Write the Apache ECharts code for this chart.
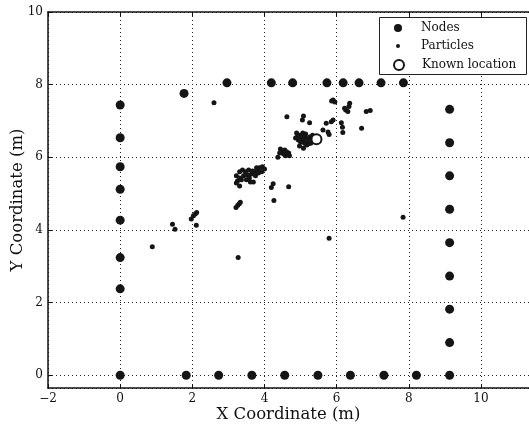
<!DOCTYPE html>
<html>
<head>
<meta charset="utf-8">
<script src="https://cdn.jsdelivr.net/npm/echarts@6/dist/echarts.min.js"></script>
<style>
    html,body{margin:0;padding:0;background:#fff;}
    #main{width:529px;height:428px;}
</style>
</head>
<body>
<div id="main"></div>
<script>
// 节点 (Nodes)
var nodes = [
    [0,0],[0,2.38],[0,3.24],[0,4.27],[0,5.12],[0,5.74],[0,6.54],[0,7.44],
    [1.83,0],[2.73,0],[3.65,0],[4.56,0],[5.48,0],[6.38,0],[7.31,0],[8.21,0],[9.13,0],
    [9.13,0.90],[9.13,1.82],[9.13,2.73],[9.13,3.65],[9.13,4.57],[9.13,5.49],[9.13,6.40],[9.13,7.32],
    [1.77,7.76],[2.96,8.05],[4.19,8.05],[4.78,8.05],[5.73,8.05],[6.18,8.05],[6.62,8.05],[7.23,8.05],[7.85,8.05]
];

// 粒子 (Particles)
var particles = [
    [0.89,3.54],[1.45,4.16],[1.52,4.02],
    [1.97,4.30],[2.03,4.39],[2.08,4.44],[2.12,4.48],[2.11,4.13],
    [3.27,3.24],[3.21,4.62],[3.26,4.68],[3.30,4.72],[3.33,4.76],
    [3.22,5.49],[3.31,5.60],[3.39,5.65],[3.47,5.60],[3.31,5.43],[3.42,5.49],[3.53,5.51],
    [3.58,5.43],[3.64,5.54],[3.72,5.60],[3.81,5.65],[3.86,5.71],[3.94,5.74],[4.00,5.68],
    [3.92,5.60],[3.75,5.49],[3.25,5.35],[3.36,5.38],[3.50,5.38],[3.67,5.62],[3.83,5.57],
    [3.56,5.65],[3.69,5.32],[3.31,5.21],[3.22,5.29],[3.61,5.32],[3.78,5.71],
    [4.26,4.81],[4.67,5.19],[4.19,5.17],[4.24,5.27],[5.79,3.77],[7.84,4.35],
    [4.37,6.00],[4.44,6.23],[4.50,6.17],[4.56,6.20],[4.61,6.15],[4.67,6.12],[4.53,6.09],
    [4.69,6.04],[4.58,6.04],[4.42,6.12],
    [4.86,6.53],[4.92,6.59],[4.97,6.61],[5.03,6.56],[5.08,6.59],[5.14,6.53],[5.19,6.48],
    [5.25,6.56],[5.31,6.50],[4.94,6.48],[5.00,6.42],[5.06,6.45],[5.11,6.39],[5.17,6.34],
    [5.22,6.37],[4.89,6.67],[5.06,6.67],[5.14,6.64],[4.97,6.31],[5.08,6.25],[5.28,6.39],[5.33,6.61],
    [2.60,7.50],[4.62,7.12],[5.08,7.14],[5.05,7.03],[5.25,6.95],
    [5.71,6.94],[5.85,6.98],[5.90,7.03],[5.62,6.75],[5.79,6.63],[5.76,6.70],
    [5.90,7.58],[5.95,7.52],[5.86,7.55],
    [6.22,7.35],[6.31,7.26],[6.36,7.49],[6.25,7.30],[6.34,7.40],
    [6.82,7.26],[6.93,7.29],[6.13,6.95],[6.16,6.83],[6.17,6.68],[6.69,6.80]
];

// 已知位置 (Known location)
var knownLocation = [[5.44,6.50]];

var seriesNames = ['Nodes','Particles','Known location'];

var serif = '"DejaVu Serif", serif';

function minusSign(v){
    return String(v).replace('-','\u2212');
}

// 图例: 每项一个 legend, 图标大小不同
function legendItem(name,top,size){
    return {
        data:[name],
        left:398 - size/2,
        top:top - 7,
        padding:0,
        z:20,
        itemWidth:size,
        itemHeight:size,
        textStyle:{
            fontFamily:serif,fontSize:12,color:'#111',
            padding:[0,0,0,18 - size/2]
        }
    };
}

var chart = echarts.init(document.getElementById('main'));

var gridLine = {
    show:true,
    lineStyle:{color:'#222',width:1,type:[1,3]}
};

var option = {
    animation:false,
    backgroundColor:'#fff',
    grid:{left:48,right:0,top:12,bottom:40,outerBoundsMode:'none',containLabel:false},
    xAxis:[
        {
            type:'value',
            min:-2,
            max:11.33,
            interval:2,
            name:'X Coordinate (m)',
            nameLocation:'middle',
            nameGap:18,
            nameMoveOverlap:false,
            nameTextStyle:{fontFamily:serif,fontSize:16.5,color:'#111'},
            axisLine:{onZero:false,lineStyle:{color:'#111',width:1.5}},
            axisTick:{inside:true,length:4,lineStyle:{color:'#111'}},
            axisLabel:{
                fontFamily:serif,fontSize:12,color:'#111',margin:5,
                showMaxLabel:false,
                formatter:minusSign
            },
            splitLine:gridLine
        },
        {
            // 上边框
            type:'value',
            position:'top',
            min:-2,
            max:11.33,
            interval:2,
            axisLine:{show:true,onZero:false,lineStyle:{color:'#111',width:1.5}},
            axisTick:{inside:true,length:4,lineStyle:{color:'#111'}},
            axisLabel:{show:false},
            splitLine:{show:false}
        }
    ],
    yAxis:{
        type:'value',
        min:-0.35,
        max:10,
        splitNumber:5,
        name:'Y Coordinate (m)',
        nameLocation:'middle',
        nameGap:22,
        nameMoveOverlap:false,
        nameTextStyle:{fontFamily:serif,fontSize:16.5,color:'#111'},
        axisLine:{show:true,onZero:false,lineStyle:{color:'#111',width:1.5}},
        axisTick:{inside:true,length:4,lineStyle:{color:'#111'}},
        axisLabel:{
            fontFamily:serif,fontSize:12,color:'#111',margin:5,
            showMinLabel:false
        },
        splitLine:gridLine
    },
    // 图例外框
    graphic:[{
        type:'rect',
        left:379,
        top:17,
        z:10,
        shape:{width:147,height:57},
        style:{fill:'#fff',stroke:'#222',lineWidth:1}
    }],
    legend:[
        legendItem(seriesNames[0],29,8),
        legendItem(seriesNames[1],47,4),
        legendItem(seriesNames[2],66,10)
    ],
    series:[
        {
            name:seriesNames[0],
            type:'scatter',
            symbol:'circle',
            symbolSize:9,
            itemStyle:{color:'#151515',opacity:1},
            data:nodes
        },
        {
            name:seriesNames[1],
            type:'scatter',
            symbol:'circle',
            symbolSize:5,
            itemStyle:{color:'#151515',opacity:1},
            data:particles
        },
        {
            name:seriesNames[2],
            type:'scatter',
            symbol:'circle',
            symbolSize:10,
            itemStyle:{color:'#fff',borderColor:'#151515',borderWidth:2,opacity:1},
            data:knownLocation
        }
    ]
};
chart.setOption(option);
</script>
</body>
</html>
